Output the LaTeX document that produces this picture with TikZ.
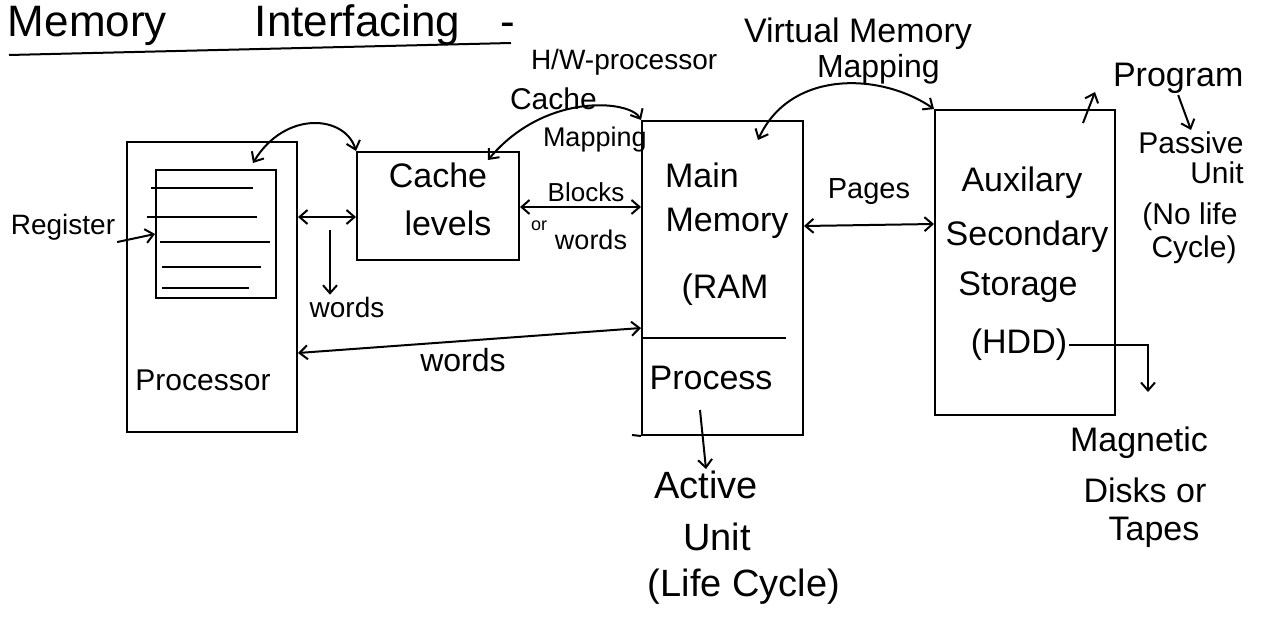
\documentclass[tikz,border=0pt]{standalone}
\usepackage{fontspec}
\setmainfont{Liberation Sans}
\usetikzlibrary{arrows.meta}
\newcommand{\hw}[1]{\fontsize{#1}{#1}\selectfont}

\begin{document}
\begin{tikzpicture}[
    x=1pt, y=-1pt,
    line width=2pt,
    >={Straight Barb[length=8pt,width=14pt]},
    unit/.style={draw, inner sep=0pt},
    txt/.style={inner sep=1pt, font=\hw{34}},
    small/.style={inner sep=1pt, font=\hw{28}}
  ]
  \useasboundingbox (0,0) rectangle (1270,623);

  \node[anchor=base west, inner sep=0pt, font=\hw{44}] (title) at (7,37)
    {Memory\hspace{88pt}Interfacing\hspace{40pt}-};
  \draw (9,55) -- (511,43);

  % the four units
  \node[unit, minimum width=170pt, minimum height=290pt] (proc) at (212,287) {};
  \node[unit, minimum width=120pt, minimum height=128pt] (reg) at (216,234) {};
  \node[unit, minimum width=162pt, minimum height=108pt] (cache) at (438,206) {};
  \node[unit, minimum width=161pt, minimum height=314pt] (mm) at (722.5,278) {};
  \node[unit, minimum width=180pt, minimum height=305pt] (aux) at (1025,262.5) {};

  \foreach \y/\a/\b in {188/151/253, 217/147/257, 242/160/270, 267/162/261, 288/162/249}
    \draw (\a,\y) -- (\b,\y);
  \draw (mm.west |- 0,338) -- (786,338);
  \draw (632,435) -- (mm.south west);

  % texts inside the units
  \node[txt, font=\hw{30}] (proclbl) at (203,380) {Processor};
  \node[txt] (cache1) at (438,175) {Cache};
  \node[txt] (cache2) at (448,223) {levels};
  \node[txt] (mm1) at (702,175) {Main};
  \node[txt] (mm2) at (727,223) {Memory};
  \node[txt] (mm3) at (725,290) {(RAM};
  \node[txt] (mm4) at (711,378) {Process};
  \node[txt] (aux1) at (1022,183) {Auxilary};
  \node[txt] (aux2) at (1027,237) {Secondary};
  \node[txt] (aux3) at (1018,287) {Storage};
  \node[txt] (hdd) at (1019,345) {(HDD)};

  % labels round the units
  \node[small] (reglbl) at (63,227) {Register};
  \node[small] (wordsA) at (347,307) {words};
  \node[txt, font=\hw{32}] (wordsB) at (463,360) {words};
  \node[inner sep=1pt, font=\hw{26}] (blocks) at (586,192) {Blocks};
  \node[inner sep=1pt, font=\hw{18}] (orlbl) at (539,226) {or};
  \node[inner sep=1pt, font=\hw{27}] (wordsC) at (591,240) {words};
  \node[inner sep=1pt, font=\hw{29}] (pages) at (869,192) {Pages};
  \node[anchor=base west, inner sep=0pt, font=\hw{28}] (hwproc) at (530,70) {H/W-processor};
  \node[anchor=base west, inner sep=0pt, font=\hw{30}] (cmap1) at (509,110) {Cache};
  \node[anchor=base west, inner sep=0pt, font=\hw{27}] (cmap2) at (542,147) {Mapping};
  \node[anchor=base west, inner sep=0pt, font=\hw{34}] (vmap1) at (743,43) {Virtual Memory};
  \node[anchor=base west, inner sep=0pt, font=\hw{32}] (vmap2) at (816,78) {Mapping};
  \node[anchor=base west, inner sep=0pt, font=\hw{34}] (prog) at (1112,87) {Program};
  \node[inner sep=1pt, font=\hw{30}] (passive) at (1191,143) {Passive};
  \node[inner sep=1pt, font=\hw{30}] (punit) at (1217,173) {Unit};
  \node[inner sep=1pt, font=\hw{30}] (nolife) at (1190,217) {(No life};
  \node[inner sep=1pt, font=\hw{30}] (pcycle) at (1194,250) {Cycle)};
  \node[inner sep=1pt, font=\hw{38}] (active) at (706,485) {Active};
  \node[inner sep=1pt, font=\hw{38}] (aunit) at (717,537) {Unit};
  \node[inner sep=1pt, font=\hw{38}] (acycle) at (744,587) {(Life Cycle)};
  \node[inner sep=1pt, font=\hw{34}] (magn) at (1139,443) {Magnetic};
  \node[inner sep=1pt, font=\hw{34}] (disks) at (1145,490) {Disks or};
  \node[inner sep=1pt, font=\hw{34}] (tapes) at (1154,532) {Tapes};

  \coordinate (ptop) at (253,163);
  \coordinate (cmend) at (488,160);
  \coordinate (vmend) at (758,140);
  \coordinate (wtop) at (330,230);
  \coordinate (ptick) at (1083,123);
  \coordinate (ptip) at (1095,92);
  \coordinate (hddend) at (1148,392);
  \coordinate (pdown) at (700,410);

  % connectors
  \draw[->] (reglbl.south east) -- (reg.west);
  \draw[<->] (proc.east |- 0,217) -- (cache.west |- 0,217);
  \draw[->] (wtop) -- (wordsA.north -| wtop);
  \draw[<->] (cache.north west) .. controls (345,115) and (285,110) .. (ptop);
  \draw[<->] (mm.north west) .. controls (630,100) and (545,92) .. (cmend);
  \draw[<->] (cache.east |- 0,207) -- (mm.west |- 0,207);
  \draw[<->] (proc.east |- 0,353) -- (mm.west |- 0,328);
  \draw[<->] (mm.east |- 0,226) -- (aux.west |- 0,224);
  \draw[<->] (aux.north west) .. controls (880,72) and (790,70) .. (vmend);
  \draw[->] (ptick) -- (ptip);
  \draw[->] (prog.south) -- (passive.north);
  \draw[->] (hdd.east) -| (hddend);
  \draw[->] (pdown) -- (active.north);
\end{tikzpicture}
\end{document}
